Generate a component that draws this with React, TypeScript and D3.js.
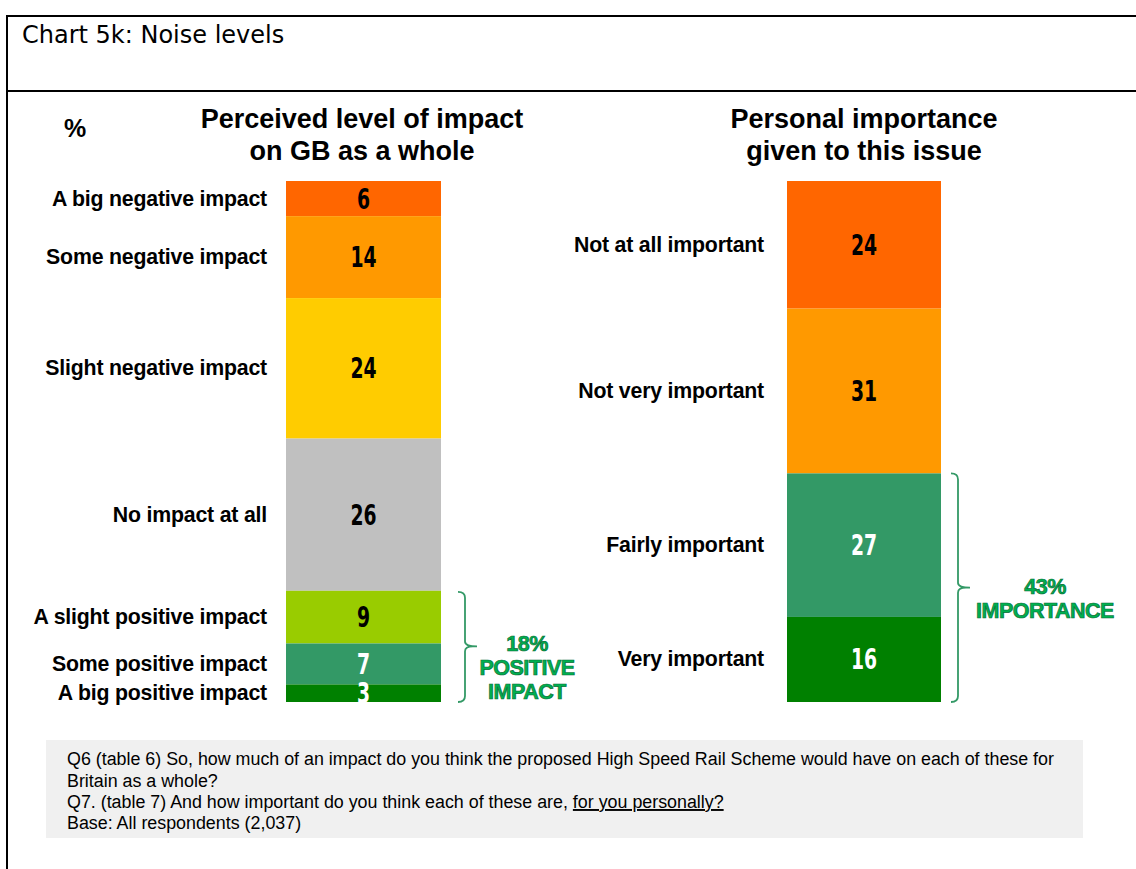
import React from 'react';
import * as d3 from 'd3';

// left panel: perceived impact (top to bottom)
const impactLabels = [
  'A big negative impact',
  'Some negative impact',
  'Slight negative impact',
  'No impact at all',
  'A slight positive impact',
  'Some positive impact',
  'A big positive impact',
];
const impactValues = [6, 14, 24, 26, 9, 7, 3];
const impactColors = ['#FF6600', '#FF9900', '#FFCC00', '#C0C0C0', '#99CC00', '#339966', '#008000'];
const impactTextColors = ['#000', '#000', '#000', '#000', '#000', '#fff', '#fff'];

// right panel: personal importance
const importanceLabels = ['Not at all important', 'Not very important', 'Fairly important', 'Very important'];
const importanceValues = [24, 31, 27, 16];
const importanceColors = ['#FF6600', '#FF9900', '#339966', '#008000'];
const importanceTextColors = ['#000', '#000', '#fff', '#fff'];

const positiveSummary = ['18%', 'POSITIVE', 'IMPACT'];
const importanceSummary = ['43%', 'IMPORTANCE'];

const footLines = [
  'Q6 (table 6) So, how much of an impact do you think the proposed High Speed Rail Scheme would have on each of these for',
  'Britain as a whole?',
  'Q7. (table 7) And how important do you think each of these are, ',
  'Base: All respondents (2,037)',
];

const W = 1136;
const H = 869;
const barTop = 181;
const barBottom = 702;

const labelFont = '"Liberation Sans", Arial, sans-serif';
const numFont = '"DejaVu Sans Condensed", "DejaVu Sans", sans-serif';

function stack(values: number[]) {
  const total = d3.sum(values);
  const y = d3.scaleLinear().domain([0, total]).range([barTop, barBottom]);
  let acc = 0;
  return values.map(v => {
    const y0 = y(acc);
    acc += v;
    const y1 = y(acc);
    return { y0, y1, v };
  });
}

function Brace({ x, y0, y1, ym }: { x: number; y0: number; y1: number; ym: number }) {
  const path = d3.path();
  path.moveTo(x - 7, y0);
  path.quadraticCurveTo(x, y0, x, y0 + 6);
  path.lineTo(x, ym - 5);
  path.quadraticCurveTo(x, ym, x + 12, ym);
  path.moveTo(x, ym + 5);
  path.quadraticCurveTo(x, ym, x + 8, ym);
  path.moveTo(x, ym + 5);
  path.lineTo(x, y1 - 6);
  path.quadraticCurveTo(x, y1, x - 7, y1);
  return <path d={path.toString()} fill="none" stroke="#339966" strokeWidth={1.8} />;
}

function Bar({ labels, values, colors, textColors, x0, x1, labelX }: any) {
  const segs = stack(values);
  return (
    <g>
      {segs.map((s, i) => (
        <g key={i}>
          <rect x={x0} y={s.y0} width={x1 - x0} height={s.y1 - s.y0} fill={colors[i]} />
          <text
            transform={`translate(${(x0 + x1) / 2},${(s.y0 + s.y1) / 2 + 10}) scale(0.72,1)`}
            textAnchor="middle"
            fontFamily={numFont}
            fontWeight="bold"
            fontSize={29}
            fill={textColors[i]}
          >
            {s.v}
          </text>
          <text
            x={labelX}
            y={(s.y0 + s.y1) / 2 + 7}
            textAnchor="end"
            fontFamily={labelFont}
            fontWeight="bold"
            fontSize={21.3}
            letterSpacing={-0.2}
            fill="#000"
          >
            {labels[i]}
          </text>
        </g>
      ))}
    </g>
  );
}

export default function App() {
  const leftSegs = stack(impactValues);
  const rightSegs = stack(importanceValues);
  const posTop = leftSegs[4].y0;
  const impTop = rightSegs[2].y0;
  const summaryStyle = {
    fontFamily: labelFont,
    fontWeight: 'bold' as const,
    fontSize: 21.5,
    fill: '#00B050',
    stroke: '#0a6e36',
    strokeWidth: 0.7,
    letterSpacing: -0.5,
  };
  return (
    <svg width={W} height={H} style={{ position: 'absolute', left: 0, top: 0 }}>
      <rect width={W} height={H} fill="#fff" />
      {/* frame */}
      <line x1={7} x2={W} y1={16} y2={16} stroke="#000" strokeWidth={2} />
      <line x1={7} x2={W} y1={91} y2={91} stroke="#000" strokeWidth={2} />
      <line x1={7} x2={7} y1={15} y2={H} stroke="#000" strokeWidth={2} />
      <text x={22} y={43} fontFamily='"DejaVu Sans", Verdana, sans-serif' fontSize={24} fill="#000">
        Chart 5k: Noise levels
      </text>

      {/* titles */}
      <text x={75} y={137} textAnchor="middle" fontFamily={labelFont} fontWeight="bold" fontSize={25}>%</text>
      <g fontFamily={labelFont} fontWeight="bold" fontSize={27} textAnchor="middle" fill="#000">
        <text x={362} y={128}>Perceived level of impact</text>
        <text x={362} y={160}>on GB as a whole</text>
        <text x={864} y={128}>Personal importance</text>
        <text x={864} y={160}>given to this issue</text>
      </g>

      <Bar
        labels={impactLabels}
        values={impactValues}
        colors={impactColors}
        textColors={impactTextColors}
        x0={286}
        x1={441}
        labelX={267}
      />
      <Bar
        labels={importanceLabels}
        values={importanceValues}
        colors={importanceColors}
        textColors={importanceTextColors}
        x0={787}
        x1={941}
        labelX={764}
      />

      <Brace x={465} y0={posTop + 1} y1={barBottom} ym={(posTop + barBottom) / 2} />
      <g textAnchor="middle" style={summaryStyle}>
        {positiveSummary.map((t, i) => (
          <text key={t} x={527} y={651 + i * 24}>{t}</text>
        ))}
      </g>

      <Brace x={958} y0={impTop} y1={barBottom} ym={(impTop + barBottom) / 2} />
      <g textAnchor="middle" style={summaryStyle}>
        {importanceSummary.map((t, i) => (
          <text key={t} x={1045} y={594 + i * 24}>{t}</text>
        ))}
      </g>

      {/* footnote */}
      <rect x={46} y={740} width={1037} height={98} fill="#F0F0F0" />
      <g fontFamily={labelFont} fontSize={19} fill="#000" transform="translate(67,0) scale(0.94,1)">
        <text x={0} y={765}>{footLines[0]}</text>
        <text x={0} y={787}>{footLines[1]}</text>
        <text x={0} y={808}>
          {footLines[2]}
          <tspan textDecoration="underline">for you personally?</tspan>
        </text>
        <text x={0} y={829}>{footLines[3]}</text>
      </g>
    </svg>
  );
}
